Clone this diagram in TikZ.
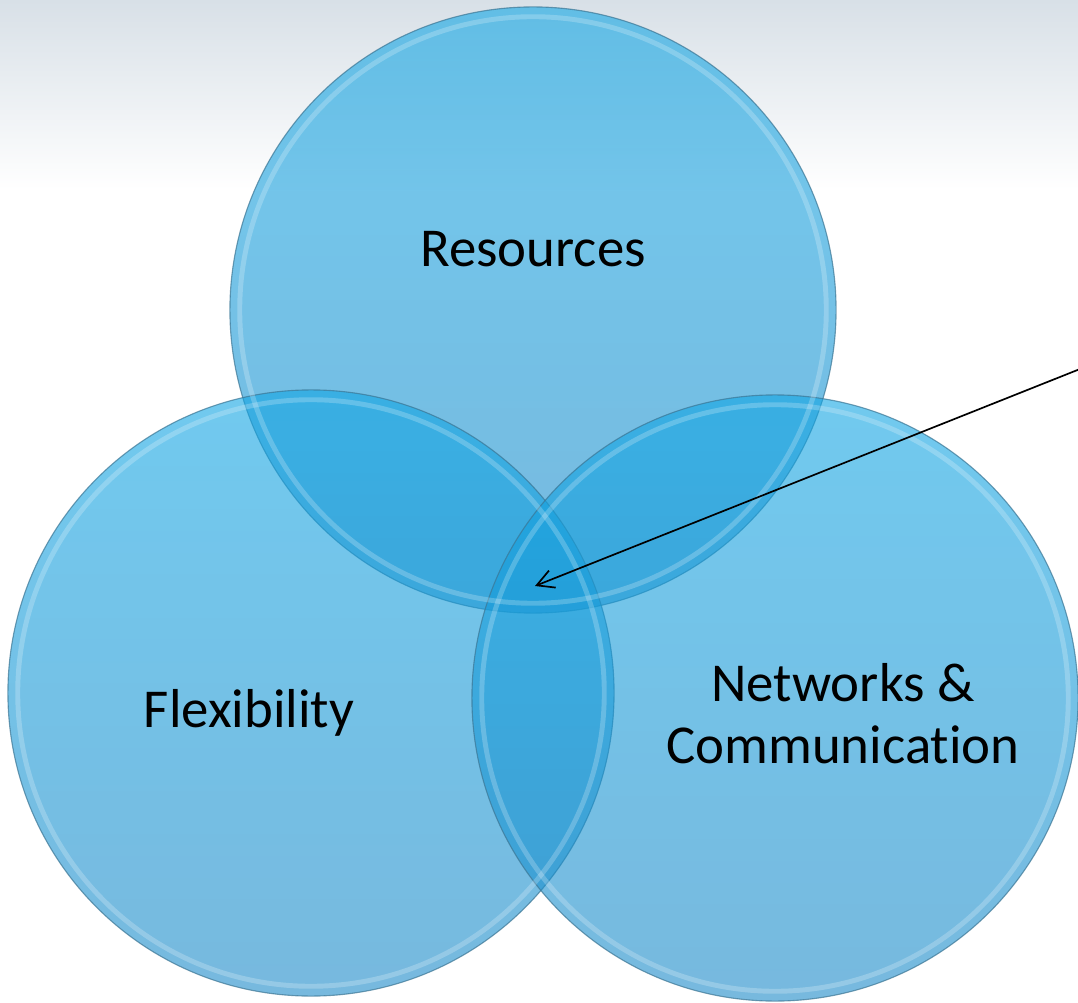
\documentclass[tikz,border=0pt]{standalone}
\usepackage{fontspec}
\setmainfont{Carlito}[Ligatures=NoCommon]
\usetikzlibrary{arrows.meta,calc,positioning}
\definecolor{vennblue}{RGB}{18,166,228}
\definecolor{vennlow}{RGB}{28,138,200}
\definecolor{vennrim}{RGB}{60,118,148}
\definecolor{bgtop}{RGB}{216,224,231}
\tikzset{
	venn/.style={circle,inner sep=0pt,outer sep=0pt,minimum size=15.15cm,top color=vennblue,bottom color=vennlow,fill opacity=.6,draw=vennrim,draw opacity=.7,line width=.8pt},
	glint/.style={draw=white,line width=3.5pt,draw opacity=.22},
	venntext/.style={font=\fontsize{39}{43.5}\selectfont,align=center,anchor=base},
}
\begin{document}
\begin{tikzpicture}[x=0.025cm,y=-0.025cm]
	\shade[top color=bgtop,bottom color=white] (0,0) rectangle (1078,190);
	\useasboundingbox (0,0) rectangle (1078,1003);
	% the three sets
	\node[venn] (res) at (533,310){};
	\node[venn] (flex) at (311,693){};
	\node[venn] (net) at (775,698){};
	\foreach \c in {res,flex,net}
		\draw[glint] (\c.center) circle[radius=7.33cm];
	\node[venntext] (resl) at (533,267){Resources};
	\node[venntext] (flexl) at (249,727){Flexibility};
	\node[venntext] (netl) at (843,763){Networks \&\\Communication};
	% pointer into the common part
	\coordinate (hub) at (535,586);
	\coordinate (tail) at (1080,369);
	\draw[-{Straight Barb[length=12pt,width=13pt]},line width=1.2pt] (tail) -- (hub);
\end{tikzpicture}
\end{document}
